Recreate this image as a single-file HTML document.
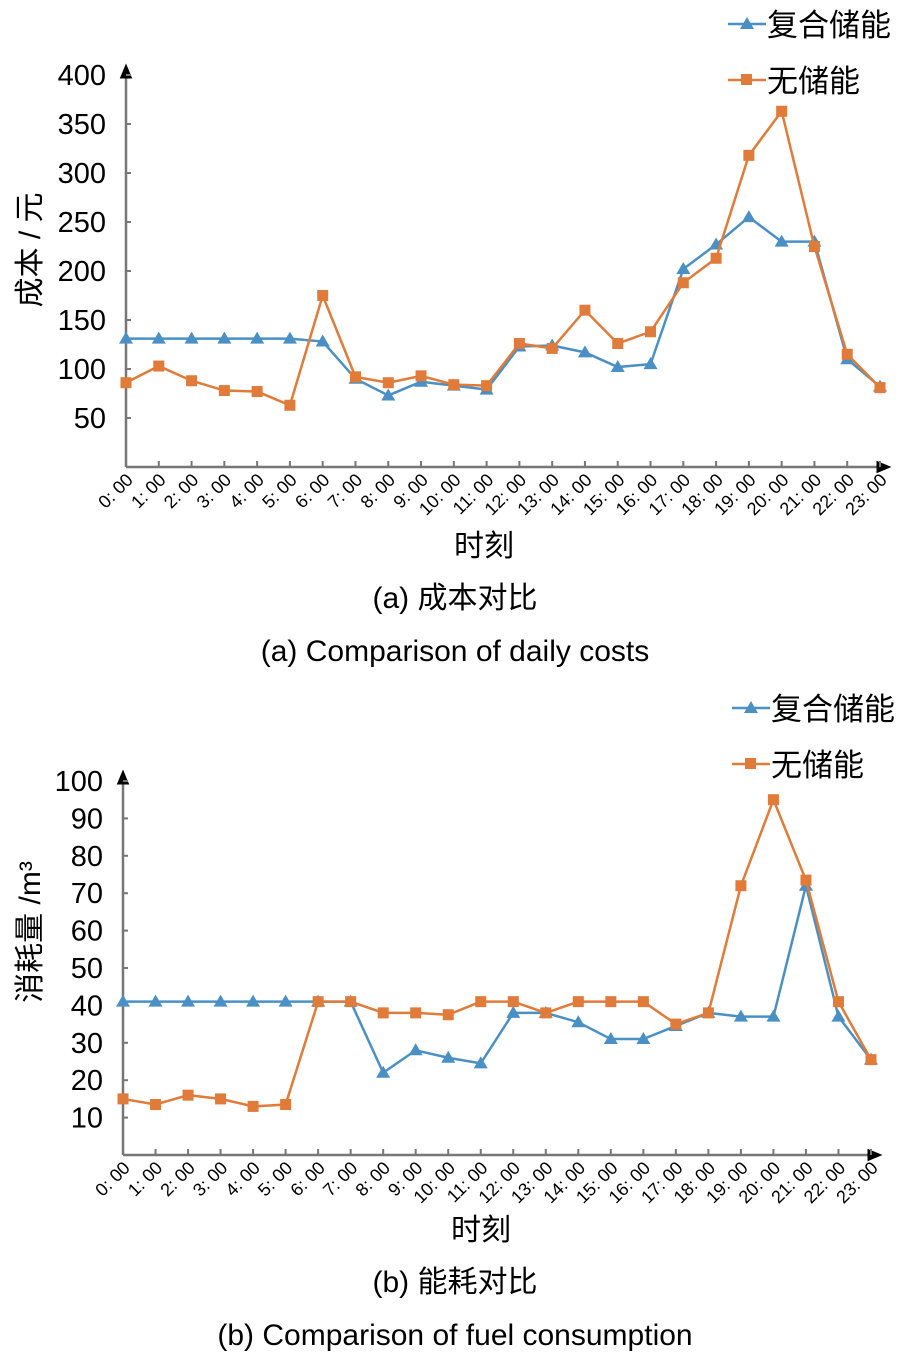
<!DOCTYPE html>
<html><head><meta charset="utf-8">
<style>
body{margin:0;background:#fff;}
svg{display:block;font-family:"Liberation Sans","Noto Sans CJK SC",sans-serif;}
</style></head>
<body>
<svg id="c" width="910" height="1362" xmlns="http://www.w3.org/2000/svg">
<defs>
<marker id="arr" markerWidth="6" markerHeight="6" refX="3" refY="3" orient="auto" markerUnits="strokeWidth"><path d="M0,0.5 L6,3 L0,5.5 z" fill="#000"/></marker>
</defs>
</svg>
<script>
const hours = ["0: 00","1: 00","2: 00","3: 00","4: 00","5: 00","6: 00","7: 00","8: 00","9: 00","10: 00","11: 00","12: 00","13: 00","14: 00","15: 00","16: 00","17: 00","18: 00","19: 00","20: 00","21: 00","22: 00","23: 00"];
const costHybrid = [131,131,131,131,131,131,128,90,73,87,83,79,123,124,117,102,105,202,227,255,230,230,110,82];
const costNone = [86,103,88,78,77,63,175,92,86,93,84,83,126,121,160,126,138,188,213,318,363,225,115,81];
const costTicks = [50,100,150,200,250,300,350,400];
const fuelHybrid = [41,41,41,41,41,41,41,41,22,28,26,24.5,38,38,35.5,31,31,34.5,38,37,37,72,37,25.5];
const fuelNone = [15,13.5,16,15,13,13.5,41,41,38,38,37.5,41,41,38,41,41,41,35,38,72,95,73.5,41,25.5];
const fuelTicks = [10,20,30,40,50,60,70,80,90,100];

const svg = document.getElementById('c');
const NS = 'http://www.w3.org/2000/svg';
function mk(tag, attrs, parent){const e=document.createElementNS(NS,tag);for(const k in attrs)e.setAttribute(k,attrs[k]);(parent||svg).appendChild(e);return e;}
function txt(s, attrs, parent){const e=mk('text',attrs,parent);e.textContent=s;return e;}

function chart(o){
  const g = mk('g',{});
  
  
  const xs = i => o.x0 + i*(o.x1-o.x0)/(hours.length-1);
  const ys = v => o.yb - (v/o.ymax)*(o.yb-o.yt);
  const ya = mk('line',{x1:o.x0,y1:o.yb,x2:o.x0,y2:o.yt-4,stroke:'#777','stroke-width':2.5,'marker-end':'url(#arr)'},g);
  
  
  const xa = mk('line',{x1:o.x0,y1:o.yb,x2:o.x1+4,y2:o.yb,stroke:'#777','stroke-width':2.5,'marker-end':'url(#arr)'},g);
  
  
  o.ticks.forEach(t=>{
    const y=ys(t);
    mk('line',{x1:o.x0,y1:y,x2:o.x0+5,y2:y,stroke:'#777','stroke-width':2},g);
    const l=txt(String(t),{x:o.x0-20,y:y+10,'font-size':29,'text-anchor':'end',fill:'#000'},g);
    
    
  });
  hours.forEach((h,i)=>{
    const x=xs(i);
    if(i>0) mk('line',{x1:x,y1:o.yb,x2:x,y2:o.yb-6,stroke:'#777','stroke-width':2},g);
    const l=txt(h,{x:x+8,y:o.yb+14,'font-size':18,'text-anchor':'end',transform:`rotate(-45 ${x+8} ${o.yb+14})`,fill:'#000'},g);
    
    
  });
  function series(vals,color,shape,name){
    const sg=mk('g',{},g);
    
    
    mk('polyline',{points:vals.map((v,i)=>xs(i)+','+ys(v)).join(' '),fill:'none',stroke:color,'stroke-width':2.5},sg);
    vals.forEach((v,i)=>{
      const x=xs(i),y=ys(v);
      let m;
      if(shape==='tri') m=mk('polygon',{points:`${x},${y-7} ${x-7},${y+5} ${x+7},${y+5}`,fill:color},sg);
      else m=mk('rect',{x:x-5.5,y:y-5.5,width:11,height:11,fill:color},sg);
      
      
    });
  }
  series(o.a,'#4a90c4','tri','series-hybrid-storage');
  series(o.b,'#e07b3a','sq','series-no-storage');
  const lg=mk('g',{},g);
  
  
  mk('line',{x1:o.lx,y1:o.ly,x2:o.lx+38,y2:o.ly,stroke:'#4a90c4','stroke-width':2.5},lg);
  mk('polygon',{points:`${o.lx+19},${o.ly-7} ${o.lx+12},${o.ly+5} ${o.lx+26},${o.ly+5}`,fill:'#4a90c4'},lg);
  txt('复合储能',{x:o.lx+39,y:o.ly+12,'font-size':31},lg);
  mk('line',{x1:o.lx,y1:o.ly+56,x2:o.lx+38,y2:o.ly+56,stroke:'#e07b3a','stroke-width':2.5},lg);
  mk('rect',{x:o.lx+13,y:o.ly+50,width:11,height:11,fill:'#e07b3a'},lg);
  txt('无储能',{x:o.lx+39,y:o.ly+68,'font-size':31},lg);
  const yl=txt(o.ylab,{x:0,y:0,'font-size':30,'text-anchor':'middle',transform:`translate(${o.ylx} ${o.yly}) rotate(-90)`},g);
  
  
  const xl=txt('时刻',{x:o.xlx,y:o.xly,'font-size':30,'text-anchor':'middle'},g);
  
  
  const c1=txt(o.cap1,{x:455,y:o.xly+52,'font-size':30,'text-anchor':'middle'},g);
  
  
  const c2=txt(o.cap2,{x:455,y:o.xly+105,'font-size':30,'text-anchor':'middle'},g);
  
  
}
chart({name:'cost-chart',x0:126,x1:880,yt:75,yb:467,ymax:400,ticks:costTicks,a:costHybrid,b:costNone,
  lx:728,ly:24,ylab:'成本 / 元',ylx:40,yly:250,xlx:484,xly:556,cap1:'(a) 成本对比',cap2:'(a) Comparison of daily costs'});
chart({name:'fuel-chart',x0:123,x1:871,yt:781,yb:1155,ymax:100,ticks:fuelTicks,a:fuelHybrid,b:fuelNone,
  lx:732,ly:708,ylab:'消耗量 /m³',ylx:40,yly:932,xlx:481,xly:1240,cap1:'(b) 能耗对比',cap2:'(b) Comparison of fuel consumption'});
</script>
</body></html>
